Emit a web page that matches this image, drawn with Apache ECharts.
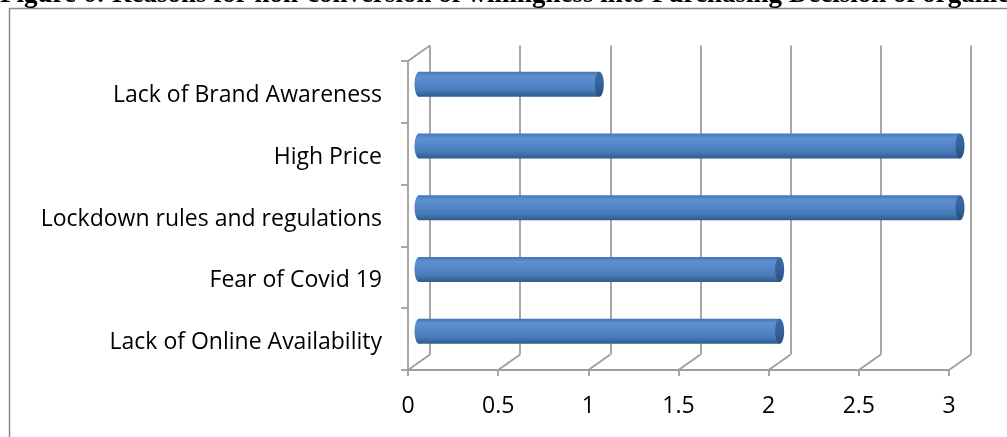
<!DOCTYPE html>
<html>
<head>
<meta charset="utf-8">
<script src="https://cdn.jsdelivr.net/npm/echarts@6/dist/echarts.min.js"></script>
<style>
  html, body { margin: 0; padding: 0; background: #ffffff; }
  #chart { width: 1007px; height: 437px; }
</style>
</head>
<body>
<div id="chart"></div>
<script>
// Categories listed bottom to top, as the category axis stacks them
const categories = [
  'Lack of Online Availability',
  'Fear of Covid 19',
  'Lockdown rules and regulations',
  'High Price',
  'Lack of Brand Awareness'
];
const values = [2, 2, 3, 3, 1];
const xTicks = [0, 0.5, 1, 1.5, 2, 2.5, 3];
const xMin = 0;
const xMax = 3;
const xStep = 0.5;

const titleText = 'Figure 6: Reasons for non-conversion of willingness into Purchasing Decision of organic';

// Pseudo-3D layout: front plane, a mid-depth plane for the bars, and the back wall
const FRONT = { left: 408, top: 61, width: 541, height: 309 };
const DEPTH_X = 22;
const DEPTH_Y = 15.5;
const BACK = { left: FRONT.left + DEPTH_X, top: FRONT.top - DEPTH_Y, width: FRONT.width, height: FRONT.height };
const MID = { left: FRONT.left + DEPTH_X / 2, top: FRONT.top - DEPTH_Y / 2, width: FRONT.width, height: FRONT.height };

const FRAME_COLOR = '#9e9e9e';
const FRAME_WIDTH = 1.8;
const LABEL_FONT = { fontFamily: 'Open Sans', fontSize: 23, color: '#000000' };

const chart = echarts.init(document.getElementById('chart'), null, { renderer: 'canvas' });

// Floor depth lines at every tick, plus the top edge of the left wall
function renderFrame(params, api) {
  const cs = params.coordSys;
  const x = api.coord([api.value(0), 0])[0];
  const floorY = cs.y + cs.height;
  const children = [{
    type: 'line',
    shape: { x1: x, y1: floorY, x2: x + DEPTH_X, y2: floorY - DEPTH_Y },
    style: { stroke: FRAME_COLOR, lineWidth: FRAME_WIDTH }
  }];
  if (params.dataIndex === 0) {
    children.push({
      type: 'line',
      shape: { x1: cs.x, y1: cs.y, x2: cs.x + DEPTH_X, y2: cs.y - DEPTH_Y },
      style: { stroke: FRAME_COLOR, lineWidth: FRAME_WIDTH }
    });
  }
  return { type: 'group', children: children };
}

const bodyFill = new echarts.graphic.LinearGradient(0, 0, 0, 1, [
  { offset: 0, color: '#4575b0' },
  { offset: 0.18, color: '#5c90d3' },
  { offset: 0.4, color: '#5889cb' },
  { offset: 0.75, color: '#477ab8' },
  { offset: 1, color: '#2f5a8d' }
]);
const capFill = new echarts.graphic.LinearGradient(0, 0, 0, 1, [
  { offset: 0, color: '#3a6aa3' },
  { offset: 0.5, color: '#35629a' },
  { offset: 1, color: '#284f7e' }
]);

// Cylindrical bar: rounded far-left end, body, and darker end face
function renderBar(params, api) {
  const cat = api.value(1);
  const start = api.coord([xMin, cat]);
  const end = api.coord([api.value(0), cat]);
  const h = api.size([0, 1])[1] * 0.405;
  const rx = 4.5;
  const top = start[1] - h / 2;
  return {
    type: 'group',
    children: [
      { type: 'ellipse', shape: { cx: start[0], cy: start[1], rx: rx, ry: h / 2 }, style: { fill: bodyFill } },
      { type: 'rect', shape: { x: start[0], y: top, width: end[0] - start[0], height: h }, style: { fill: bodyFill } },
      { type: 'ellipse', shape: { cx: end[0], cy: end[1], rx: rx, ry: h / 2 }, style: { fill: capFill } }
    ]
  };
}

const hiddenValueAxis = (gridIndex) => ({
  type: 'value', gridIndex: gridIndex, min: xMin, max: xMax, interval: xStep,
  axisLine: { show: false }, axisTick: { show: false }, axisLabel: { show: false }, splitLine: { show: false }
});
const hiddenCategoryAxis = (gridIndex) => ({
  type: 'category', gridIndex: gridIndex, data: categories,
  axisLine: { show: false }, axisTick: { show: false }, axisLabel: { show: false }, splitLine: { show: false }
});

const option = {
  backgroundColor: '#ffffff',
  animation: false,
  graphic: [
    {
      type: 'rect', z: 0, silent: true,
      shape: { x: 9.5, y: 8.5, width: 1200, height: 600 },
      style: { fill: 'none', stroke: '#8a8a8a', lineWidth: 1.5 }
    },
    {
      type: 'text', x: 0, y: -5, z: 10, silent: true,
      style: {
        text: titleText,
        fontFamily: 'Liberation Serif', fontWeight: 'bold', fontSize: 27,
        fill: '#000000', verticalAlign: 'middle', align: 'left'
      }
    }
  ],
  grid: [
    Object.assign({ containLabel: false }, FRONT),
    Object.assign({ containLabel: false }, BACK),
    Object.assign({ containLabel: false }, MID)
  ],
  xAxis: [
    {
      type: 'value', gridIndex: 0, min: xMin, max: xMax, interval: xStep,
      axisLine: { show: true, lineStyle: { color: FRAME_COLOR, width: FRAME_WIDTH } },
      axisTick: { show: true, length: 6, lineStyle: { color: FRAME_COLOR, width: FRAME_WIDTH } },
      axisLabel: Object.assign({ margin: 25 }, LABEL_FONT),
      splitLine: { show: false }
    },
    {
      type: 'value', gridIndex: 1, min: xMin, max: xMax, interval: xStep,
      axisLine: { show: false }, axisTick: { show: false }, axisLabel: { show: false },
      splitLine: { show: true, lineStyle: { color: FRAME_COLOR, width: FRAME_WIDTH } }
    },
    hiddenValueAxis(2)
  ],
  yAxis: [
    {
      type: 'category', gridIndex: 0, data: categories,
      axisLine: { show: true, lineStyle: { color: FRAME_COLOR, width: FRAME_WIDTH } },
      axisTick: { show: true, length: 7, lineStyle: { color: FRAME_COLOR, width: FRAME_WIDTH } },
      axisLabel: {
        margin: 26,
        formatter: (v) => '{c|' + v + '}',
        rich: { c: Object.assign({ padding: [7, 0, 0, 0] }, LABEL_FONT) }
      },
      splitLine: { show: false }
    },
    hiddenCategoryAxis(1),
    hiddenCategoryAxis(2)
  ],
  series: [
    {
      type: 'custom', name: 'frame', xAxisIndex: 0, yAxisIndex: 0, z: 2, silent: true,
      renderItem: renderFrame,
      data: xTicks.map(v => [v, 0])
    },
    {
      type: 'custom', name: 'Reasons', xAxisIndex: 2, yAxisIndex: 2, z: 5,
      renderItem: renderBar,
      encode: { x: 0, y: 1 },
      data: values.map((v, i) => [v, i])
    }
  ]
};

chart.setOption(option);
</script>
</body>
</html>
